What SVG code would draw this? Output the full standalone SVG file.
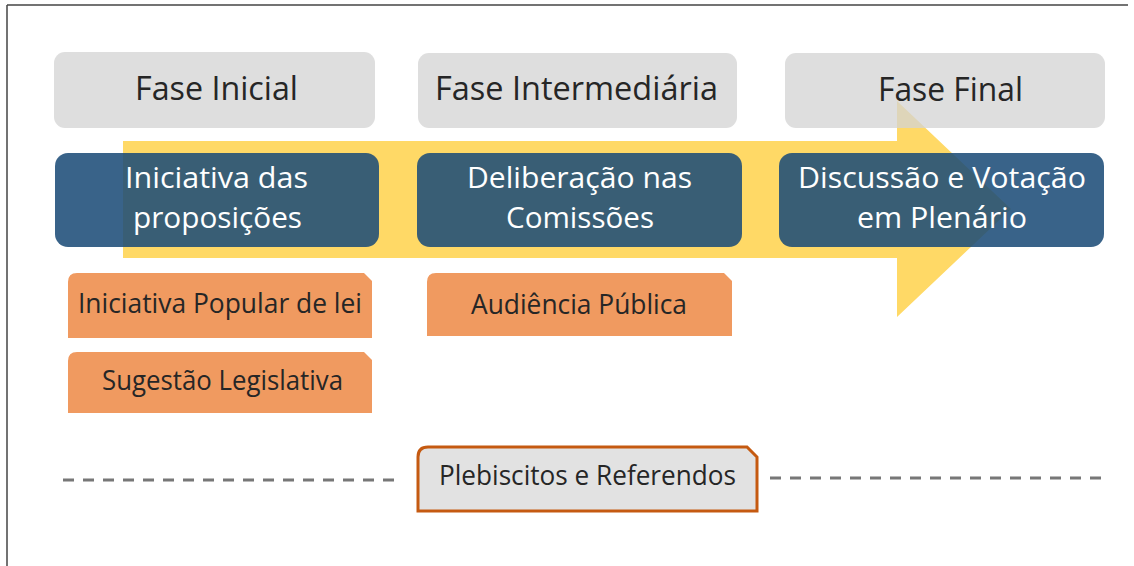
<svg xmlns="http://www.w3.org/2000/svg" width="1134" height="566" viewBox="0 0 1134 566">
<style>
.phase{fill:#D4D4D4;fill-opacity:0.76}
.step{fill:#1C4C78;fill-opacity:0.87}
.sub{fill:#F09A60}
.t{font-family:"Open Sans","Noto Sans","DejaVu Sans",sans-serif;text-anchor:middle}
.tg{font-size:32px;fill:#262626}
.tb{font-size:29px;fill:#FFFFFF}
.to{font-size:27px;fill:#262626}
.dash{stroke:#777777;stroke-width:3;stroke-dasharray:11 9;fill:none}
</style>
<rect width="1134" height="566" fill="#FFFFFF"/>
<g id="frame" stroke="#444444" stroke-width="1.5" fill="none">
<line x1="7" y1="5" x2="1128" y2="5"/>
<line x1="7" y1="5" x2="7" y2="566"/>
</g>
<g id="arrow">
<polygon points="123,141 897,141 897,101 1011,209 897,317 897,258 123,258" fill="#FFD966"/>
</g>
<g id="phase-inicial">
<rect class="phase" x="54" y="52" width="321" height="76" rx="11"/>
<text class="t tg" x="216.5" y="100" textLength="163" lengthAdjust="spacingAndGlyphs">Fase Inicial</text>
</g>
<g id="phase-intermediaria">
<rect class="phase" x="418" y="53" width="319" height="75" rx="11"/>
<text class="t tg" x="576.5" y="100" textLength="283" lengthAdjust="spacingAndGlyphs">Fase Intermediária</text>
</g>
<g id="phase-final">
<rect class="phase" x="785" y="53" width="320" height="75" rx="11"/>
<text class="t tg" x="950.5" y="101" textLength="145" lengthAdjust="spacingAndGlyphs">Fase Final</text>
</g>
<g id="step-iniciativa">
<rect class="step" x="55" y="153" width="324" height="94" rx="13"/>
<text class="t tb" x="216.5" y="188" textLength="183" lengthAdjust="spacingAndGlyphs">Iniciativa das</text>
<text class="t tb" x="217.5" y="228" textLength="169" lengthAdjust="spacingAndGlyphs">proposições</text>
</g>
<g id="step-deliberacao">
<rect class="step" x="417" y="153" width="325" height="94" rx="13"/>
<text class="t tb" x="579.5" y="188" textLength="225" lengthAdjust="spacingAndGlyphs">Deliberação nas</text>
<text class="t tb" x="580" y="228" textLength="148" lengthAdjust="spacingAndGlyphs">Comissões</text>
</g>
<g id="step-discussao">
<rect class="step" x="779" y="153" width="325" height="94" rx="13"/>
<text class="t tb" x="942" y="188" textLength="288" lengthAdjust="spacingAndGlyphs">Discussão e Votação</text>
<text class="t tb" x="942" y="228" textLength="170" lengthAdjust="spacingAndGlyphs">em Plenário</text>
</g>
<g id="sub-iniciativa-popular">
<path class="sub" d="M68,338 L68,282 Q68,273 77,273 L364,273 L372,281 L372,338 Z"/>
<text class="t to" x="220" y="313" textLength="284" lengthAdjust="spacingAndGlyphs">Iniciativa Popular de lei</text>
</g>
<g id="sub-sugestao">
<path class="sub" d="M68,413 L68,361 Q68,352 77,352 L364,352 L372,360 L372,413 Z"/>
<text class="t to" x="222.5" y="390" textLength="241" lengthAdjust="spacingAndGlyphs">Sugestão Legislativa</text>
</g>
<g id="sub-audiencia">
<path class="sub" d="M427,336 L427,282 Q427,273 436,273 L724,273 L732,281 L732,336 Z"/>
<text class="t to" x="579" y="314" textLength="216" lengthAdjust="spacingAndGlyphs">Audiência Pública</text>
</g>
<g id="connectors">
<line class="dash" x1="63" y1="480" x2="396" y2="480"/>
<line class="dash" x1="770" y1="478" x2="1103" y2="478"/>
</g>
<g id="plebiscitos">
<path d="M418,511 L418,457 Q418,447 428,447 L747,447 L757,457 L757,511 Z" fill="#E2E2E2" stroke="#C55A11" stroke-width="3"/>
<text class="t to" x="587.5" y="485" textLength="297" lengthAdjust="spacingAndGlyphs">Plebiscitos e Referendos</text>
</g>
</svg>
